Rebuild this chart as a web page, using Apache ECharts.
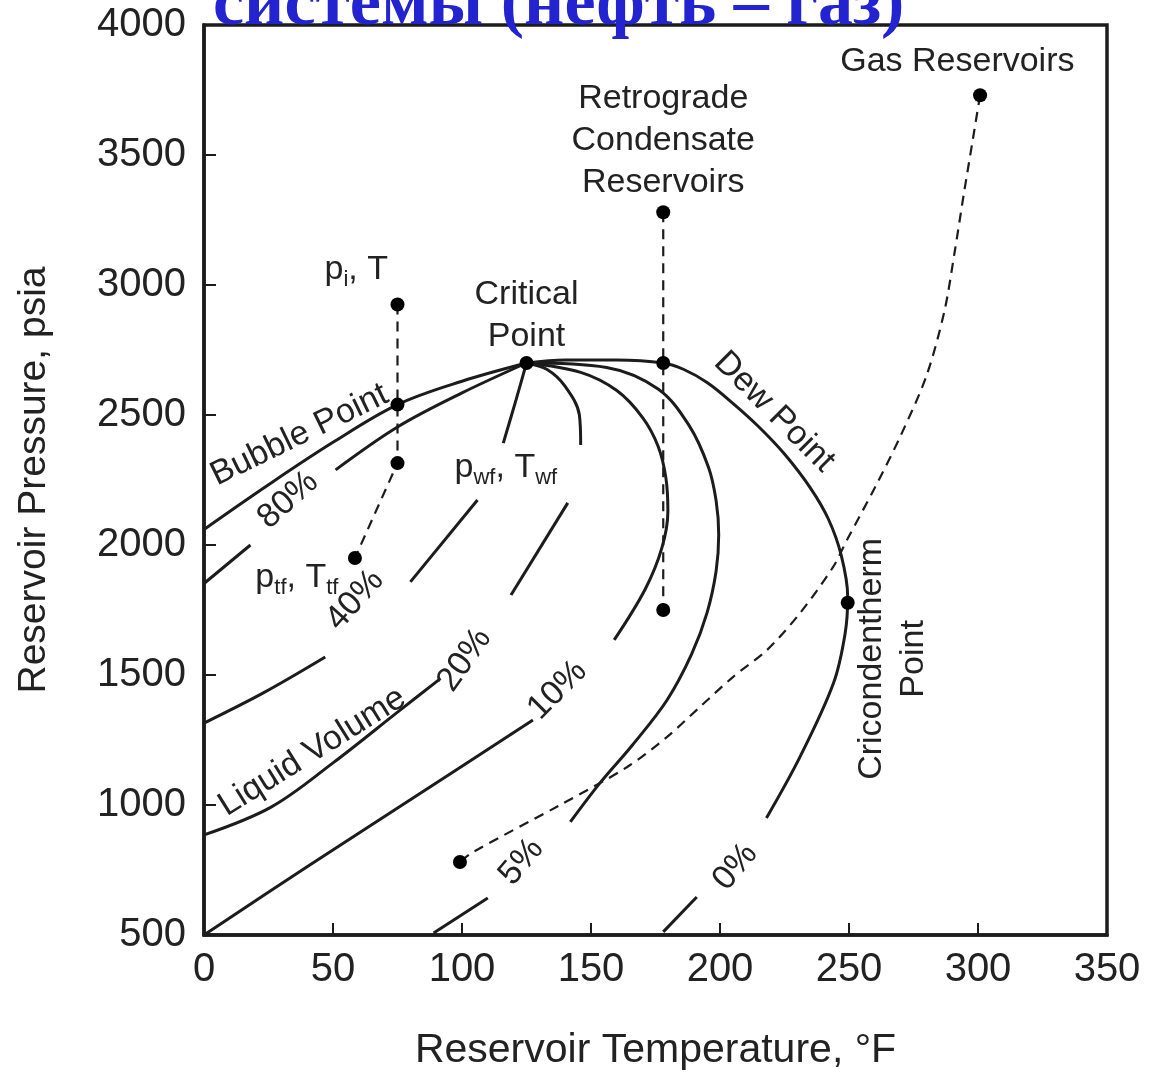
<!DOCTYPE html>
<html><head><meta charset="utf-8">
<script src="https://cdn.jsdelivr.net/npm/echarts@6/dist/echarts.min.js"></script>
<style>html,body{margin:0;padding:0;background:#fff}#c{width:1149px;height:1084px}</style>
</head><body><div id="c"></div>
<script>
// ---- data (Temperature °F, Pressure psia) ----
const bubblePoint = [[0,2060],[25,2232],[50,2395],[75,2540],[100,2630],[125,2700]];
const liquid80 = [[[0,1852],[18,2000]], [[51,2289],[75,2454],[100,2585],[125,2700]]];
const liquid40 = [[[0,1315],[23,1431],[47,1569]], [[80,1858],[106,2173]], [[116,2392],[121,2560],[125,2700]]];
const liquid20 = [[[0,885],[26,992],[50,1162],[76,1365],[91,1481]], [[119,1808],[141,2162]], [[146,2385],[145.5,2500],[140,2610],[133,2675],[125,2700]]];
const liquid10 = [[[0,500],[41,769],[84,1046],[127.5,1327]], [[159,1635],[171,1830],[177.5,1990],[179.8,2130],[179,2260],[176,2380],[170,2490],[160,2594],[146,2664],[125,2700]]];
const liquid5 = [[[89,508],[110,642]], [[142,935],[153.5,1085],[166,1230],[179.5,1404],[189,1580],[195,1740],[198.5,1900],[199.5,2040],[198.5,2170],[195.5,2300],[188,2460],[176,2600],[156,2683],[125,2700]]];
const dewPoint = [[[125,2700],[140,2712],[160,2712],[178,2700],[186,2675],[195,2625],[205,2545],[215,2455],[225,2350],[235,2220],[242,2100],[247,1960],[249.5,1800],[248.5,1660],[244,1469],[231,1185],[218,950]], [[191,646],[178,512]]];
const oilPath = [[75,2925],[75,2315],[58.5,1950]];
const condensatePath = [[178,3280],[178,1750]];
const gasPath = [[300.8,3730],[298,3560],[294.5,3350],[291,3130],[287,2900],[280,2650],[270,2420],[260,2220],[249.2,2019],[243.8,1915],[231,1738],[218.2,1596],[205,1492],[192.2,1377],[179.5,1262],[164,1146],[138,1000],[104.3,819],[99.2,781]];
const statePoints = [[75,2925],[75,2540],[75,2315],[58.5,1950],[125,2700],[178,3280],[178,2700],[178,1750],[300.8,3730],[99.2,781],[249.5,1778]];
const annoText = ['Gas Reservoirs','Retrograde\nCondensate\nReservoirs','Critical\nPoint','Bubble Point','80%','40%','20%','10%','5%','0%','Liquid Volume','Dew Point','Cricondentherm\nPoint','{m|p}{s|i}{m|, T}','{m|p}{s|tf}{m|, T}{s|tf}','{m|p}{s|wf}{m|, T}{s|wf}'];
const annoAt = [[292,3858],[178,3554],[125,2881],[37,2423],[32.6,2173],[58.5,1788],[101,1558],[137,1442],[123,781],[206,762],[42,1204],[221,2512],[267,1562],[59,3058],[36,1873],[117,2296]];
const annoAngle = [0,0,0,26,42,48,55,45,50,50,32,-45,90,0,0,0];

// ---- chart ----
const INK = '#1c1c1c';
const TXT = '#222';
const FONT = 'Liberation Sans, Arial, Helvetica, sans-serif';
const series = [];
function addCurve(pts) {
  series.push({
    type: 'line', data: pts, smooth: 0.35, showSymbol: false, silent: true,
    lineStyle: { color: INK, width: 3 }, z: 2
  });
}
addCurve(bubblePoint);
[liquid80, liquid40, liquid20, liquid10, liquid5, dewPoint].forEach(c => c.forEach(seg => addCurve(seg)));
const dash = { color: INK, width: 2.2, type: [10, 7] };
series.push({ type: 'line', data: oilPath, smooth: false, showSymbol: false, lineStyle: dash });
series.push({ type: 'line', data: condensatePath, smooth: false, showSymbol: false, lineStyle: dash });
series.push({ type: 'line', data: gasPath, smooth: 0.3, showSymbol: false, lineStyle: dash });
series.push({ type: 'scatter', data: statePoints, symbolSize: 14, itemStyle: { color: '#000', opacity: 1 }, z: 5 });
series.push({
  type: 'scatter', symbolSize: 1, itemStyle: { color: 'rgba(0,0,0,0)', opacity: 1 }, z: 6,
  data: annoText.map((t, i) => ({
    value: annoAt[i],
    label: {
      show: true, position: 'inside', formatter: t, rotate: annoAngle[i],
      align: 'center', verticalAlign: 'middle',
      color: TXT, fontSize: 34, lineHeight: 42, fontFamily: FONT,
      rich: {
        m: { fontSize: 34, color: TXT, fontFamily: FONT, lineHeight: 42 },
        s: { fontSize: 22, color: TXT, fontFamily: FONT, verticalAlign: 'bottom', lineHeight: 30 }
      }
    }
  }))
});

const chart = echarts.init(document.getElementById('c'), null, { renderer: 'canvas' });
chart.setOption({
  animation: false,
  backgroundColor: '#fff',
  title: {
    text: 'системы (нефть – газ)', left: 208, top: -34,
    textStyle: { fontFamily: 'Liberation Serif, Times New Roman, serif', fontWeight: 'bold', fontSize: 70, color: '#2323cf' }
  },
  grid: { left: 204, right: 42, top: 25, bottom: 149, containLabel: false, show: true, borderColor: INK, borderWidth: 3.5 },
  xAxis: {
    type: 'value', min: 0, max: 350, interval: 50,
    name: 'Reservoir Temperature, °F', nameLocation: 'middle', nameGap: 95,
    nameTextStyle: { fontSize: 41, color: TXT, fontFamily: FONT },
    axisLine: { lineStyle: { color: INK, width: 3.5 } },
    axisTick: { inside: true, length: 12, lineStyle: { color: INK, width: 2 } },
    axisLabel: { fontSize: 40, color: TXT, fontFamily: FONT, margin: 15, formatter: v => String(v) },
    splitLine: { show: false }
  },
  yAxis: {
    type: 'value', min: 500, max: 4000, interval: 500,
    name: 'Reservoir Pressure, psia', nameLocation: 'middle', nameGap: 150,
    nameTextStyle: { fontSize: 39, color: TXT, fontFamily: FONT },
    axisLine: { lineStyle: { color: INK, width: 3.5 } },
    axisTick: { inside: true, length: 12, lineStyle: { color: INK, width: 2 } },
    axisLabel: { fontSize: 40, color: TXT, fontFamily: FONT, margin: 18, formatter: v => String(v) },
    splitLine: { show: false }
  },
  series: series
});
</script>
</body></html>
